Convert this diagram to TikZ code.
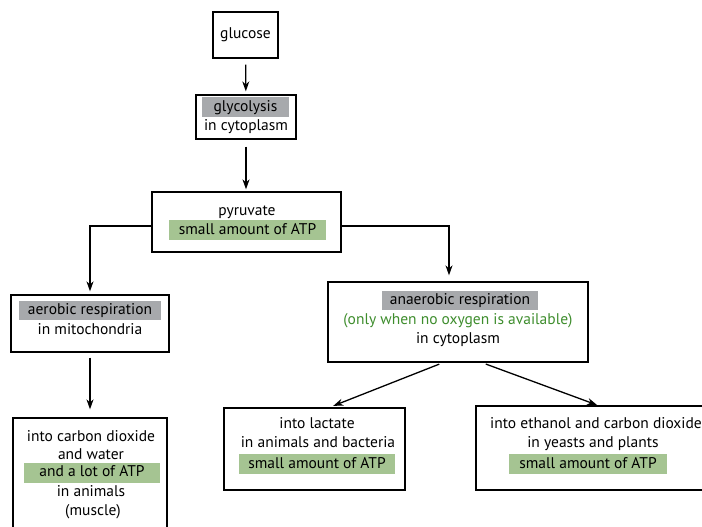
\documentclass[tikz,border=0pt]{standalone}
\usepackage{fontspec}
\setmainfont{PT Sans}
\usetikzlibrary{arrows.meta}
\definecolor{shade}{RGB}{167,169,172}
\definecolor{leaf}{RGB}{165,196,146}
\definecolor{moss}{RGB}{62,141,45}

\begin{document}
\begin{tikzpicture}[x=1pt,y=-1pt,
 every node/.style={font=\fontsize{15.5}{18}\selectfont,text=black},
 box/.style={draw=black,line width=1.3pt,inner sep=0pt},
 line/.style={inner sep=0pt,text height=11pt,text depth=3pt},
 greybar/.style={line,fill=shade,minimum height=19pt},
 greenbar/.style={line,fill=leaf,minimum height=20pt},
 flow/.style={black,line width=1.3pt,-{Stealth[length=10pt,width=7pt]}}]
 \clip (0,0) rectangle (702,527);
 % glucose and glycolysis
 \node[box,minimum width=65,minimum height=46] (glucose) at (245.5,35) {glucose};
 \node[box,minimum width=100,minimum height=44] (glycolysis) at (246,117) {};
 \node[greybar,minimum width=87] (glyc) at (245.5,107) {glycolysis};
 \node[line] (glyccyto) at (246,127) {in cytoplasm};
 % pyruvate
 \node[box,minimum width=189,minimum height=60] (pyruvate) at (246.5,222) {};
 \node[line] (pyr) at (247,211) {pyruvate};
 \node[greenbar,minimum width=157] (pyratp) at (247.5,230) {small amount of ATP};
 % aerobic branch
 \node[box,minimum width=158,minimum height=57] (aerobic) at (90,323.5) {};
 \node[greybar,minimum width=142] (aer) at (90,310) {aerobic respiration};
 \node[line] (aermito) at (90,330) {in mitochondria};
 \node[box,minimum width=154,minimum height=122] (water) at (90,479) {};
 \node[line] (wat1) at (91,437) {into carbon dioxide};
 \node[line] (wat2) at (91,455) {and water};
 \node[greenbar,minimum width=136] (watatp) at (92,472.5) {and a lot of ATP};
 \node[line] (wat3) at (91,492) {in animals};
 \node[line] (wat4) at (93,511) {(muscle)};
 % anaerobic branch
 \node[box,minimum width=260,minimum height=80] (anaerobic) at (458,322) {};
 \node[greybar,minimum width=156] (anaer) at (460,300) {anaerobic respiration};
 \node[line,text=moss] (anaeroxy) at (458,320) {(only when no oxygen is available)};
 \node[line] (anaercyto) at (458,339) {in cytoplasm};
 \node[box,minimum width=181,minimum height=82] (lactate) at (314.5,449) {};
 \node[line] (lac1) at (317,424) {into lactate};
 \node[line] (lac2) at (318,443) {in animals and bacteria};
 \node[greenbar,minimum width=156] (lacatp) at (317,464) {small amount of ATP};
 \node[box,minimum width=230,minimum height=84] (ethanol) at (591,448) {};
 \node[line] (eth1) at (596,424) {into ethanol and carbon dioxide};
 \node[line] (eth2) at (593,443) {in yeasts and plants};
 \node[greenbar,minimum width=158] (ethatp) at (588,464) {small amount of ATP};
 % connectors
 \draw[flow,shorten <=6pt,shorten >=3pt] (glucose) -- (glycolysis);
 \draw[flow,shorten <=7pt,shorten >=2pt] (glycolysis) -- (glycolysis|-pyruvate.north);
 \draw[flow,shorten >=3pt] ([yshift=-4pt]pyruvate.west) -| (aerobic);
 \draw[flow,shorten >=6pt] ([yshift=-4pt]pyruvate.east) -| ([xshift=-9pt]anaerobic.north);
 \draw[flow,shorten <=5pt,shorten >=8pt] (aerobic) -- (water);
 \draw[flow,shorten <=4pt,shorten >=4pt] ([xshift=-15pt]anaerobic.south) -- ([xshift=15pt]lactate.north);
 \draw[flow,shorten <=4pt,shorten >=1pt] ([xshift=24pt]anaerobic.south) -- ([xshift=7pt]ethanol.north);
\end{tikzpicture}
\end{document}
